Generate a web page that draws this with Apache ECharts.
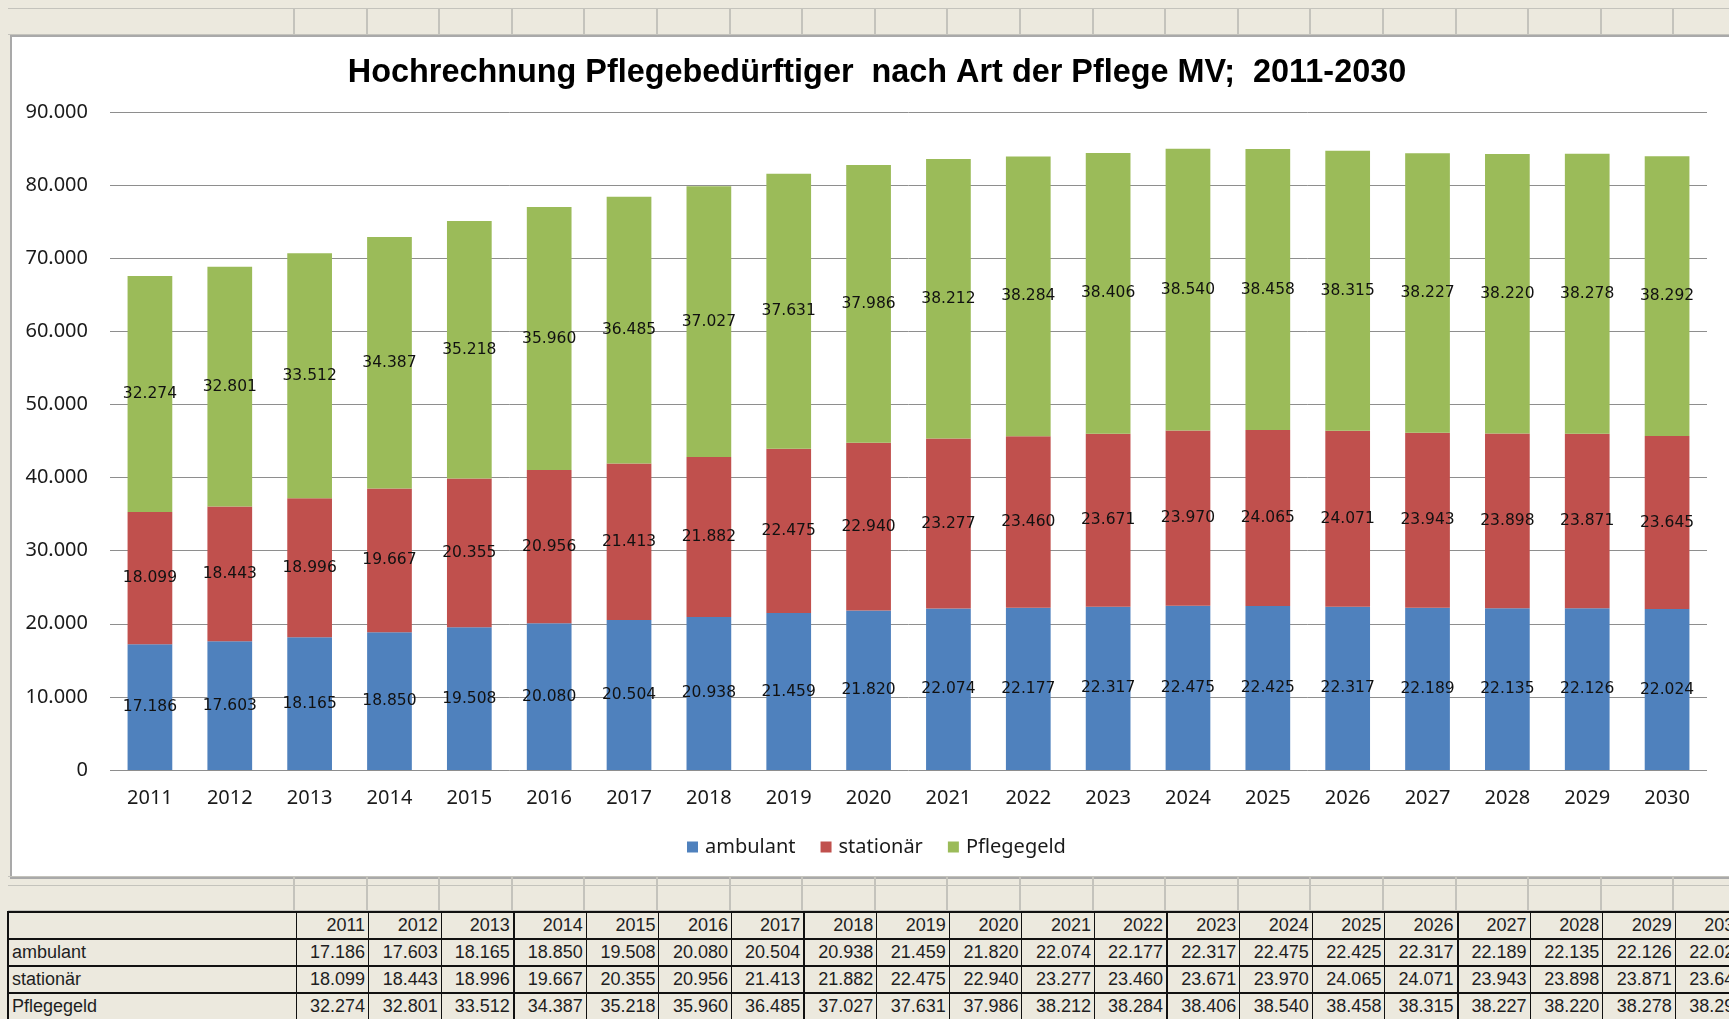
<!DOCTYPE html>
<html lang="de">
<head>
    <meta charset="UTF-8">
    <title>Hochrechnung Pflegebedürftiger MV</title>
    <script src="https://cdn.jsdelivr.net/npm/echarts@6/dist/echarts.min.js"></script>
    <style>
        body { margin: 0; width: 1729px; height: 1019px; overflow: hidden; background: #ECE9DE; position: relative; font-family: "Liberation Sans", Arial, sans-serif; }
        .row { position: absolute; left: 8px; height: 25px; border-top: 1px solid #c4c3bc; border-bottom: 1px solid #c4c3bc; white-space: nowrap; }
        .row div { display: inline-block; height: 100%; border-right: 2px solid #c4c3bc; box-sizing: border-box; vertical-align: top; }
        #box { position: absolute; left: 10px; top: 35px; width: 1740px; height: 840px; background: #fff; border: 2px solid #a9a9a9; }
        #main { position: absolute; left: 0; top: 0; width: 1729px; height: 1019px; }
        #tbl { position: absolute; left: 7px; top: 911px; width: 1740px; border-collapse: collapse; table-layout: fixed; font-size: 18px; color: #1e1e1e; }
        #tbl td { height: 25px; padding: 0 3px; border: 1px solid #111; border-top-width: 2px; border-bottom-width: 2px; text-align: right; overflow: hidden; white-space: nowrap; }
        #tbl td.lab { text-align: left; border-left-width: 2px; }
        #tbl td.thick { border-right-width: 2px; }
    </style>
</head>
<body>
<div class="row" id="toprow" style="top:8px"></div>
<div id="box"></div>
<div class="row" style="top:876px;height:8px" id="gap1"></div>
<div class="row" style="top:885px;height:25px;border-top:none" id="gap2"></div>
<table id="tbl"></table>
<div id="main"></div>
<script>
    // Daten
    var jahre = ['2011', '2012', '2013', '2014', '2015', '2016', '2017', '2018', '2019', '2020',
        '2021', '2022', '2023', '2024', '2025', '2026', '2027', '2028', '2029', '2030'];
    var ambulant = [17186, 17603, 18165, 18850, 19508, 20080, 20504, 20938, 21459, 21820,
        22074, 22177, 22317, 22475, 22425, 22317, 22189, 22135, 22126, 22024];
    var stationaer = [18099, 18443, 18996, 19667, 20355, 20956, 21413, 21882, 22475, 22940,
        23277, 23460, 23671, 23970, 24065, 24071, 23943, 23898, 23871, 23645];
    var pflegegeld = [32274, 32801, 33512, 34387, 35218, 35960, 36485, 37027, 37631, 37986,
        38212, 38284, 38406, 38540, 38458, 38315, 38227, 38220, 38278, 38292];
    var reihen = ['ambulant', 'stationär', 'Pflegegeld'];
    var farben = ['#4F81BD', '#C0504D', '#9BBB59'];

    function fmt(v) {
        return String(v).replace(/\B(?=(\d{3})+(?!\d))/g, '.');
    }

    // Tabellenblatt-Raster
    var firstW = 287, colW = 72.6;
    ['toprow', 'gap1', 'gap2'].forEach(function (id) {
        var el = document.getElementById(id);
        var html = '<div style="width:' + firstW + 'px"></div>';
        for (var i = 0; i < 21; i++) html += '<div style="width:' + colW + 'px"></div>';
        el.innerHTML = html;
    });

    // Datentabelle unten
    var thick = [2, 6, 11, 15];
    var tbl = document.getElementById('tbl');
    var h = '<colgroup><col style="width:288px">';
    for (var i = 0; i < jahre.length; i++) h += '<col style="width:' + colW + 'px">';
    h += '</colgroup><tr><td class="lab"></td>';
    jahre.forEach(function (j, i) { h += '<td' + (thick.indexOf(i) >= 0 ? ' class="thick"' : '') + '>' + j + '</td>'; });
    h += '</tr>';
    [ambulant, stationaer, pflegegeld].forEach(function (arr, k) {
        h += '<tr><td class="lab">' + reihen[k] + '</td>';
        arr.forEach(function (v, i) { h += '<td' + (thick.indexOf(i) >= 0 ? ' class="thick"' : '') + '>' + fmt(v) + '</td>'; });
        h += '</tr>';
    });
    tbl.innerHTML = h;

    // Diagramm
    var myChart = echarts.init(document.getElementById('main'));
    var labelStyle = {
        show: true,
        position: 'inside',
        fontFamily: 'DejaVu Sans',
        fontSize: 15.5,
        color: '#111',
        formatter: function (p) { return fmt(p.value); }
    };
    var option = {
        animation: false,
        color: farben,
        title: {
            text: 'Hochrechnung Pflegebedürftiger  nach Art der Pflege MV;  2011-2030',
            left: 872,
            textAlign: 'center',
            top: 52,
            textStyle: { fontFamily: 'Liberation Sans', fontWeight: 'bold', fontSize: 32.4, color: '#000' }
        },
        legend: {
            left: 682,
            top: 832,
            icon: 'rect',
            itemWidth: 11,
            itemHeight: 11,
            itemGap: 25,
            textStyle: { fontFamily: 'Noto Sans', fontSize: 20, color: '#1a1a1a', padding: [0, 0, 0, 2] },
            data: reihen
        },
        grid: { left: 110, right: 22, top: 112, bottom: 249 },
        xAxis: {
            type: 'category',
            data: jahre,
            axisLine: { show: false },
            axisTick: { show: false },
            axisLabel: { margin: 18, fontFamily: 'Noto Sans', fontSize: 20, color: '#1a1a1a' }
        },
        yAxis: {
            type: 'value',
            min: 0,
            max: 90000,
            interval: 10000,
            axisLine: { show: false },
            axisTick: { show: false },
            axisLabel: { margin: 22, fontFamily: 'Noto Sans', fontSize: 20, color: '#1a1a1a', formatter: fmt },
            splitLine: { lineStyle: { color: '#8e8e8e', width: 1 } }
        },
        series: [
            { name: reihen[0], type: 'bar', stack: 'gesamt', barWidth: '56%', label: labelStyle, data: ambulant },
            { name: reihen[1], type: 'bar', stack: 'gesamt', barWidth: '56%', label: labelStyle, data: stationaer },
            { name: reihen[2], type: 'bar', stack: 'gesamt', barWidth: '56%', label: labelStyle, data: pflegegeld }
        ]
    };
    myChart.setOption(option);
</script>
</body>
</html>
